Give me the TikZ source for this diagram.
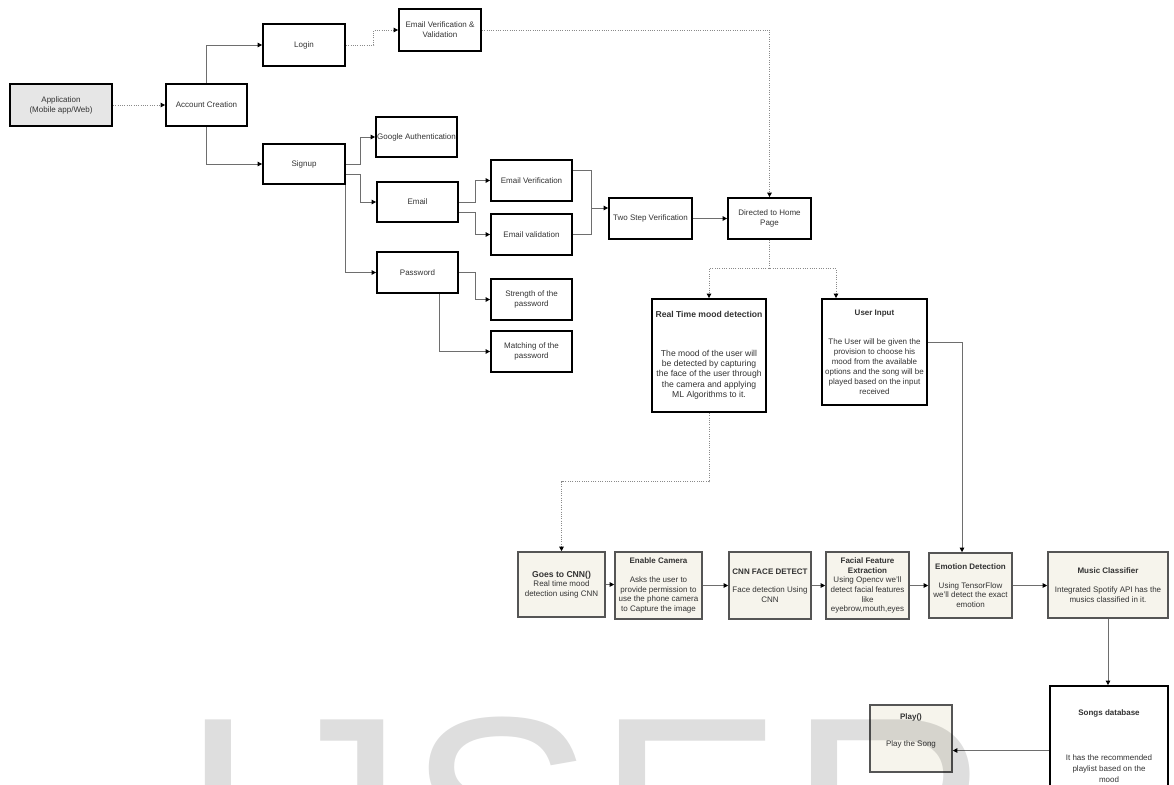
\documentclass[tikz,border=0pt]{standalone}
\usepackage{fontspec}
\setmainfont{Liberation Sans}
\usetikzlibrary{arrows.meta,calc}
\definecolor{txt}{HTML}{333333}
\definecolor{cream}{HTML}{F6F4EC}
\definecolor{cborder}{HTML}{555555}
\definecolor{lgray}{HTML}{E6E6E6}
\definecolor{lnc}{HTML}{6E6E6E}
\definecolor{dotc}{HTML}{8A8A8A}
\tikzset{
  base/.style={rectangle, inner sep=1pt, align=center, text=txt, font=\fontsize{8}{10}\selectfont},
  bbox/.style={base, draw=black, line width=1.8pt, fill=white},
  cbox/.style={base, draw=cborder, line width=1.6pt, fill=cream, font=\fontsize{8}{9.7}\selectfont},
  conn/.style={draw=lnc, line width=0.9pt, -{Triangle[length=4.5pt,width=4.5pt,color=black]}},
  plain/.style={draw=lnc, line width=0.9pt},
  dconn/.style={conn, draw=dotc, dash pattern=on 1pt off 1.3pt},
  wm/.style={anchor=base west, inner sep=0pt, text=black, text opacity=0.13, font=\fontsize{280}{280}\selectfont},
}
\begin{document}
\begin{tikzpicture}[x=1pt,y=-1pt]
\clip (0,0) rectangle (1174,784);
\fill[white] (0,0) rectangle (1174,784);

% top part
\node[bbox, fill=lgray, minimum width=102pt, minimum height=42pt] (app) at (61,105) {Application\\(Mobile app/Web)};
\node[bbox, minimum width=81pt, minimum height=42pt] (acc) at (206.5,105) {Account Creation};
\node[bbox, minimum width=82pt, minimum height=42pt] (login) at (304,45) {Login};
\node[bbox, minimum width=82pt, minimum height=42pt] (evv) at (440,30) {Email Verification \&\\Validation};
\node[bbox, minimum width=81pt, minimum height=40pt] (google) at (416.5,137) {Google Authentication};
\node[bbox, minimum width=82pt, minimum height=40pt] (signup) at (304,164) {Signup};
\node[bbox, minimum width=81pt, minimum height=40pt] (email) at (417.5,202) {Email};
\node[bbox, minimum width=81pt, minimum height=41pt] (password) at (417.5,272.5) {Password};
\node[bbox, minimum width=81pt, minimum height=41pt] (ever) at (531.5,180.5) {Email Verification};
\node[bbox, minimum width=81pt, minimum height=41pt] (evalid) at (531.5,234.5) {Email validation};
\node[bbox, minimum width=81pt, minimum height=41pt] (strength) at (531.5,299.5) {Strength of the\\password};
\node[bbox, minimum width=81pt, minimum height=41pt] (matching) at (531.5,351.5) {Matching of the\\password};
\node[bbox, minimum width=83pt, minimum height=41pt] (twostep) at (650.5,218.5) {Two Step Verification};
\node[bbox, minimum width=83pt, minimum height=41pt] (home) at (769.5,218.5) {Directed to Home\\Page};
\node[bbox, font=\fontsize{8.6}{10.3}\selectfont, minimum width=114pt, minimum height=113pt] (realtime) at (709,355.5)
  {\textbf{Real Time mood detection}\\[28pt]The mood of the user will\\be detected by capturing\\the face of the user through\\the camera and applying\\ML Algorithms to it.};
\node[bbox, font=\fontsize{8}{10}\selectfont, minimum width=105pt, minimum height=106pt] (userin) at (874.5,352)
  {\textbf{User Input}\\[19pt]The User will be given the\\provision to choose his\\mood from the available\\options and the song will be\\played based on the input\\received};

% bottom row
\node[cbox, minimum width=87pt, minimum height=65pt] (cnn) at (561.5,584.5)
  {{\fontsize{8.6}{10}\selectfont\textbf{Goes to CNN()}}\\Real time mood\\detection using CNN};
\node[cbox, minimum width=87pt, minimum height=67pt] (camera) at (658.5,585.5)
  {\textbf{Enable Camera}\\[9pt]Asks the user to\\provide permission to\\use the phone camera\\to Capture the image};
\node[cbox, minimum width=82pt, minimum height=67pt] (face) at (770,585.5)
  {\textbf{CNN FACE DETECT}\\[9pt]Face detection Using\\CNN};
\node[cbox, minimum width=83pt, minimum height=67pt] (facial) at (867.5,585.5)
  {\textbf{Facial Feature}\\\textbf{Extraction}\\Using Opencv we'll\\detect facial features\\like\\eyebrow,mouth,eyes};
\node[cbox, minimum width=83pt, minimum height=65pt] (emotion) at (970.5,585.5)
  {\textbf{Emotion Detection}\\[9pt]Using TensorFlow\\we'll detect the exact\\emotion};
\node[cbox, minimum width=120pt, minimum height=66pt] (music) at (1108,585)
  {\textbf{Music Classifier}\\[9pt]Integrated Spotify API has the\\musics classified in it.};
\node[bbox, font=\fontsize{8}{11}\selectfont, minimum width=118pt, minimum height=121pt] (songs) at (1109,746.5)
  {\textbf{Songs database}\\[34pt]It has the recommended\\playlist based on the\\mood};
\node[cbox, minimum width=82pt, minimum height=67pt] (play) at (911,738.5)
  {\textbf{Play()}\\[17pt]Play the Song\\[4pt]\strut};

% connectors
\draw[dconn] (app) -- (acc);
\draw[conn] (acc.north) |- (login.west);
\draw[conn] (acc.south) |- (signup.west);
\draw[dconn] (login.east) -- ++(28,0) |- (evv.west);
\draw[dconn] (evv.east) -| (home.north);
\draw[conn] (signup.east) -- ++(15,0) |- (google.west);
\draw[conn] ([yshift=-10pt]signup.east) -- ++(15,0) |- (email.west);
\draw[conn] (signup.south east) |- (password.west);
\draw[conn] (email.east) -- ++(17,0) |- (ever.west);
\draw[conn] ([yshift=-10pt]email.east) -- ++(17,0) |- (evalid.west);
\draw[conn] (password.east) -- ++(17,0) |- (strength.west);
\draw[conn] ([xshift=22pt]password.south) |- (matching.west);
\coordinate (j2) at (591,208);
\draw[plain] ([yshift=10pt]ever.east) -| (j2);
\draw[plain] (evalid.east) -| (j2);
\draw[conn] (j2) -- (j2 -| twostep.west);
\draw[conn] (twostep) -- (home);
\draw[dconn] (home.south) -- ++(0,29) -| (realtime.north);
\draw[dconn] (home.south) -- ++(0,29) -| ([xshift=-38.5pt]userin.north);
\draw[dconn] (realtime.south) -- ++(0,69) -| (cnn.north);
\draw[conn] ([yshift=10pt]userin.east) -| ([xshift=-8.5pt]emotion.north);
\draw[conn] (cnn.east) -- (cnn.east -| camera.west);
\draw[conn] (camera.east) -- (camera.east -| face.west);
\draw[conn] (face.east) -- (face.east -| facial.west);
\draw[conn] (facial.east) -- (facial.east -| emotion.west);
\draw[conn] (emotion.east) -- (emotion.east -| music.west);
\draw[conn] (music.south) -- (music.south |- songs.north);
\draw[conn] ([yshift=-4pt]songs.west) -- ([yshift=-4pt]songs.west -| play.east);

% watermark
\node[wm] (wI) at (179,912) {I};
\node[wm] (wJ) at (264,912) {J};
\node[wm] (wS) at (407,912) {S};
\node[wm] (wE) at (596,912) {E};
\node[wm] (wR) at (788,912) {R};
\end{tikzpicture}
\end{document}
